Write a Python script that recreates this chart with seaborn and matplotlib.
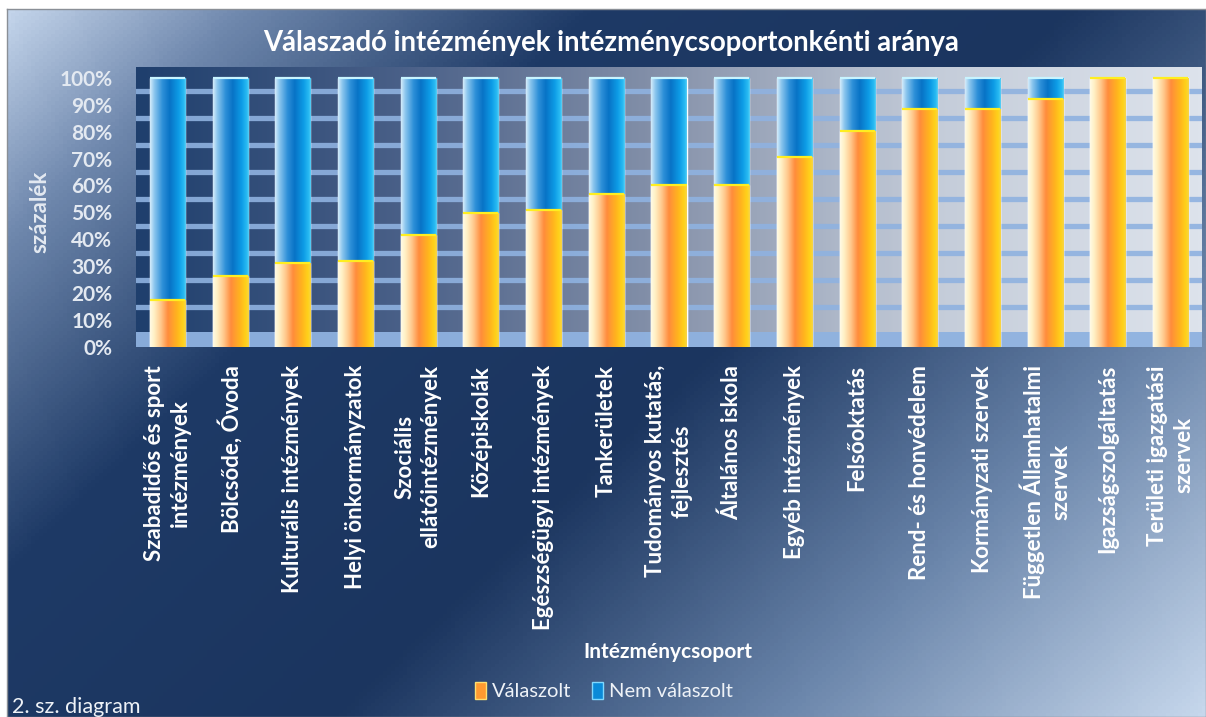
import numpy as np
import pandas as pd
import matplotlib
matplotlib.use("Agg")
import matplotlib.pyplot as plt
import seaborn as sns
from matplotlib.colors import LinearSegmentedColormap
from matplotlib.patches import Patch

categories = [
    "Szabadidős és sport\nintézmények", "Bölcsőde, Óvoda", "Kulturális intézmények",
    "Helyi önkormányzatok", "Szociális\nellátóintézmények", "Középiskolák",
    "Egészségügyi intézmények", "Tankerületek", "Tudományos kutatás,\nfejlesztés",
    "Általános iskola", "Egyéb intézmények", "Felsőoktatás", "Rend- és honvédelem",
    "Kormányzati szervek", "Független Államhatalmi\nszervek", "Igazságszolgáltatás",
    "Területi igazgatási\nszervek",
]
valaszolt = [17.5, 26.4, 31.3, 31.9, 41.6, 49.7, 51.0, 56.8, 60.1, 60.3, 70.6,
             80.3, 88.5, 88.5, 92.1, 100.0, 100.0]
nem_valaszolt = [100.0 - v for v in valaszolt]
yticks = list(range(0, 101, 10))
title = "Válaszadó intézmények intézménycsoportonkénti aránya"
series_names = ["Válaszolt", "Nem válaszolt"]

df = pd.DataFrame({"cat": categories, "val": valaszolt,
                   "total": [v + n for v, n in zip(valaszolt, nem_valaszolt)]})

sns.set_theme(style="white")
plt.rcParams["font.family"] = ["Lato", "DejaVu Sans"]

W, H = 1206, 717
fig = plt.figure(figsize=(W / 100, H / 100), dpi=100)
fig.patch.set_facecolor("white")

# figure background gradient
bg = fig.add_axes([7 / W, 0, 1 - 7 / W, 1 - 9 / H], zorder=-10)
bg_cmap = LinearSegmentedColormap.from_list("bg", [
    (0.0, "#c3d4ea"), (0.12, "#6f88ad"), (0.30, "#1e3a66"), (0.55, "#1b355f"),
    (0.78, "#6b86ab"), (1.0, "#c6d7ec")])
gx, gy = np.meshgrid(np.linspace(0, 1, 300), np.linspace(0, 1, 200))
bg.imshow(bg_cmap(0.62 * gx + 0.38 * gy), aspect="auto", extent=(0, 1, 1, 0))
bg.set_xlim(0, 1); bg.set_ylim(1, 0)
bg.set_xticks([]); bg.set_yticks([])
for s in bg.spines.values():
    s.set_color("#8a8f96"); s.set_linewidth(1)

ax = fig.add_axes([136 / W, 1 - 347 / H, 1066 / W, 280 / H])
ax.set_facecolor("none")

# plot area gradient + 3D-style back wall gridlines and floor
pa_cmap = LinearSegmentedColormap.from_list("pa", ["#1f3f6d", "#4a6088", "#8793ab", "#c4ccd9", "#dde3ec"])
ax.imshow(pa_cmap(np.linspace(0, 1, 400))[None, :, :], aspect="auto",
          extent=(-0.5, 16.5, 0, 104), zorder=0)
for v in yticks[1:-1]:
    ax.axhline(v + 5, color="#8fb2e0", lw=3.8, alpha=0.9, zorder=1)

n0 = len(ax.patches)
sns.barplot(data=df, x="cat", y="total", color="#0a7fd0", width=0.56, ax=ax,
            saturation=1, zorder=3)
blue_patches = list(ax.patches[n0:])
n1 = len(ax.patches)
sns.barplot(data=df, x="cat", y="val", color="#ff9a30", width=0.56, ax=ax,
            saturation=1, zorder=4)
orange_patches = list(ax.patches[n1:])

blue_cmap = LinearSegmentedColormap.from_list("blue", [
    (0, "#d4ecfb"), (0.12, "#8cc6ee"), (0.35, "#2d8fd8"), (0.55, "#0873c6"),
    (0.8, "#0d9ce6"), (0.95, "#2bbcf3"), (1, "#5fcff5")])
orange_cmap = LinearSegmentedColormap.from_list("orange", [
    (0, "#fffbe6"), (0.12, "#fff0c4"), (0.3, "#ffc88c"), (0.5, "#ff8c3c"),
    (0.75, "#ffb41e"), (0.92, "#ffd21a"), (1, "#f7d44a")])
grad = np.linspace(0, 1, 256)
for patches, cmap, capc in ((blue_patches, blue_cmap, "#c8f4ff"),
                            (orange_patches, orange_cmap, "#ffee20")):
    for p in patches:
        x0, y0 = p.get_x(), p.get_y()
        w, h = p.get_width(), p.get_height()
        if h <= 0:
            continue
        im = ax.imshow(cmap(grad)[None, :, :], aspect="auto",
                       extent=(x0, x0 + w, y0, y0 + h), zorder=p.get_zorder() + 0.1)
        im.set_clip_path(p)
        ax.plot([x0, x0 + w], [y0 + h, y0 + h], color=capc,
                lw=1.6, zorder=p.get_zorder() + 0.2, solid_capstyle="butt")

ax.axhspan(0, 5.6, color="#8fb2e0", alpha=0.95, zorder=1, lw=0)

ax.set_xlim(-0.5, 16.5)
ax.set_ylim(0, 104)
ax.set_yticks(yticks)
ax.set_yticklabels([f"{t}%" for t in yticks])
for s in ax.spines.values():
    s.set_visible(False)
ax.tick_params(axis="y", length=0, pad=17, labelsize=15, labelcolor="#e3e9f1")
ax.tick_params(axis="x", length=0, pad=13, labelsize=16, labelcolor="#ffffff")
for lbl in ax.get_yticklabels():
    lbl.set_fontweight("bold")
for lbl in ax.get_xticklabels():
    lbl.set_rotation(90)
    lbl.set_fontweight("bold")
    lbl.set_ha("center")
    lbl.set_va("top")
    lbl.set_multialignment("center")
    lbl.set_linespacing(1.3)
ax.set_xlabel("")
ax.set_ylabel("")

fig.text(611 / W, 1 - 43 / H, title, ha="center", va="center", color="white",
         fontsize=19.8, fontweight="bold")
fig.text(40 / W, 1 - 212 / H, "százalék", rotation=90, ha="center", va="center",
         color="#e3e9f1", fontsize=16, fontweight="bold")
fig.text(668 / W, 1 - 652 / H, "Intézménycsoport", ha="center", va="center",
         color="white", fontsize=15, fontweight="bold")
fig.text(12 / W, 1 - 707 / H, "2. sz. diagram", ha="left", va="center",
         color="#eef2f7", fontsize=15.5)

handles = [Patch(facecolor="#ff9a30", edgecolor="#ffe070"),
           Patch(facecolor="#0a8ad8", edgecolor="#7fd8ff")]
leg = fig.legend(handles, series_names, loc="center", bbox_to_anchor=(604 / W, 1 - 691 / H),
                 ncol=2, frameon=False, fontsize=14.5, handlelength=0.55, handleheight=0.9,
                 handletextpad=0.3, columnspacing=1.0)
for t in leg.get_texts():
    t.set_color("#eef2f7")

fig.savefig("out.png", dpi=100, facecolor=fig.get_facecolor())
